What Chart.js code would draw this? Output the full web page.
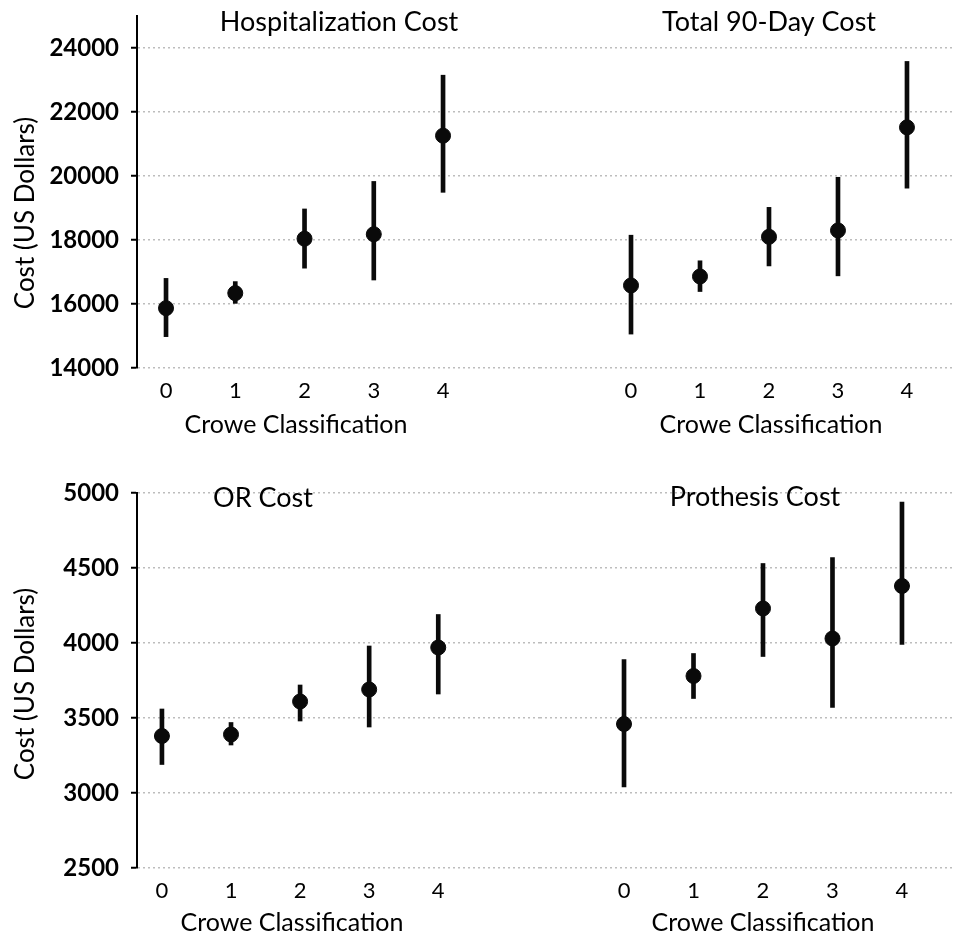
<!DOCTYPE html>
<html>
<head>
<meta charset="utf-8">
<script src="https://cdn.jsdelivr.net/npm/chart.js@4"></script>
<style>
  html, body { margin: 0; padding: 0; background: #fff; }
  #wrap { position: relative; width: 955px; height: 937px; overflow: hidden; }
  .cell { position: absolute; }
</style>
</head>
<body>
<div id="wrap">
  <div class="cell" style="left:0;top:0;width:540px;height:455px"><canvas id="hosp"></canvas></div>
  <div class="cell" style="left:540px;top:0;width:415px;height:455px"><canvas id="total"></canvas></div>
  <div class="cell" style="left:0;top:455px;width:540px;height:482px"><canvas id="orc"></canvas></div>
  <div class="cell" style="left:540px;top:455px;width:415px;height:482px"><canvas id="pros"></canvas></div>
</div>
<script>
// Crowe classes (x categories)
const crowe = [0, 1, 2, 3, 4];

// Hospitalization cost: mean and error bar ends
const hospMean = [15870, 16340, 18040, 18180, 21260];
const hospLow  = [14980, 16020, 17120, 16750, 19490];
const hospHigh = [16800, 16700, 18970, 19830, 23150];

// Total 90-day cost
const totalMean = [16580, 16860, 18100, 18300, 21520];
const totalLow  = [15060, 16390, 17190, 16880, 19620];
const totalHigh = [18150, 17350, 19020, 19960, 23580];

// OR cost
const orMean = [3380, 3390, 3610, 3690, 3970];
const orLow  = [3190, 3320, 3480, 3440, 3660];
const orHigh = [3560, 3470, 3720, 3980, 4190];

// Prothesis cost
const prosMean = [3460, 3780, 4230, 4030, 4380];
const prosLow  = [3040, 3630, 3910, 3570, 3990];
const prosHigh = [3890, 3930, 4530, 4570, 4940];

// y tick labels
const topTicks = [14000, 16000, 18000, 20000, 22000, 24000];
const bottomTicks = [2500, 3000, 3500, 4000, 4500, 5000];

const FONT = 'Lato, "DejaVu Sans", sans-serif';

// draws the panel titles and axis titles where the figure has them
function textPlugin(items) {
  return {
    id: 'panelText',
    afterDraw(chart) {
      const ctx = chart.ctx;
      items.forEach(it => {
        ctx.save();
        ctx.font = it.size + 'px ' + FONT;
        ctx.fillStyle = '#000';
        ctx.textAlign = 'center';
        ctx.textBaseline = 'middle';
        ctx.translate(it.x, it.y);
        if (it.rotate) ctx.rotate(it.rotate);
        ctx.fillText(it.text, 0, 0);
        ctx.restore();
      });
    }
  };
}

function makePanel(id, p) {
  new Chart(document.getElementById(id), {
    type: 'bar',
    data: {
      datasets: [
        {
          type: 'bar',
          data: crowe.map((c, i) => ({ x: c, y: [p.low[i], p.high[i]] })),
          backgroundColor: '#0a0a0a',
          barThickness: 4,
          borderSkipped: false,
          order: 2
        },
        {
          type: 'scatter',
          data: crowe.map((c, i) => ({ x: c, y: p.mean[i] })),
          backgroundColor: '#0a0a0a',
          borderColor: '#0a0a0a',
          pointRadius: 7.5,
          order: 1
        }
      ]
    },
    options: {
      responsive: true,
      maintainAspectRatio: false,
      animation: false,
      layout: { autoPadding: false, padding: { top: p.padTop, left: 0, right: 0, bottom: 0 } },
      plugins: { legend: { display: false }, tooltip: { enabled: false } },
      scales: {
        x: {
          type: 'linear',
          offset: false,
          min: p.xMin,
          max: p.xMax,
          afterBuildTicks: a => { a.ticks = crowe.map(v => ({ value: v })); },
          afterFit: a => { a.height = p.xHeight; a.paddingLeft = 0; a.paddingRight = 0; },
          grid: { display: false, drawTicks: false, offset: false },
          border: { display: false },
          ticks: {
            font: { family: FONT, size: 22 },
            color: '#000',
            padding: 10,
            maxRotation: 0,
            callback: v => String(v)
          }
        },
        y: {
          min: p.yMin,
          max: p.yMax,
          afterBuildTicks: a => { a.ticks = p.yTicks.map(v => ({ value: v })); },
          afterFit: a => { a.width = p.showY ? 137 : 0; a.paddingTop = 0; a.paddingBottom = 0; },
          grid: {
            color: '#bdbdbd',
            lineWidth: 1.5,
            drawTicks: p.showY,
            tickLength: 6,
            tickColor: '#000',
            tickWidth: 2,
            tickBorderDash: []
          },
          border: { display: p.showY, color: '#000', width: 2, dash: [2, 3] },
          ticks: {
            display: p.showY,
            font: { family: FONT, size: 24, weight: 'bold' },
            color: '#000',
            padding: 12,
            callback: v => String(v)
          }
        }
      }
    },
    plugins: [textPlugin(p.texts)]
  });
}

makePanel('hosp', {
  mean: hospMean, low: hospLow, high: hospHigh,
  yMin: 14000, yMax: 25000, yTicks: topTicks,
  xMin: -0.419, xMax: 5.40, showY: true, padTop: 16, xHeight: 87,
  texts: [
    { text: 'Hospitalization Cost', x: 339, y: 22, size: 27 },
    { text: 'Crowe Classification', x: 296, y: 425, size: 25 },
    { text: 'Cost (US Dollars)', x: 26, y: 213, size: 26, rotate: -Math.PI / 2 }
  ]
});

makePanel('total', {
  mean: totalMean, low: totalLow, high: totalHigh,
  yMin: 14000, yMax: 25000, yTicks: topTicks,
  xMin: -1.319, xMax: 4.696, showY: false, padTop: 16, xHeight: 87,
  texts: [
    { text: 'Total 90-Day Cost', x: 229, y: 22, size: 27 },
    { text: 'Crowe Classification', x: 231, y: 425, size: 25 }
  ]
});

makePanel('orc', {
  mean: orMean, low: orLow, high: orHigh,
  yMin: 2500, yMax: 5000, yTicks: bottomTicks,
  xMin: -0.361, xMax: 5.473, showY: true, padTop: 38, xHeight: 69,
  texts: [
    { text: 'OR Cost', x: 263, y: 43, size: 27 },
    { text: 'Crowe Classification', x: 292, y: 468, size: 25 },
    { text: 'Cost (US Dollars)', x: 26, y: 229, size: 26, rotate: -Math.PI / 2 }
  ]
});

makePanel('pros', {
  mean: prosMean, low: prosLow, high: prosHigh,
  yMin: 2500, yMax: 5000, yTicks: bottomTicks,
  xMin: -1.209, xMax: 4.763, showY: false, padTop: 38, xHeight: 69,
  texts: [
    { text: 'Prothesis Cost', x: 215, y: 42, size: 27 },
    { text: 'Crowe Classification', x: 223, y: 468, size: 25 }
  ]
});
</script>
</body>
</html>
